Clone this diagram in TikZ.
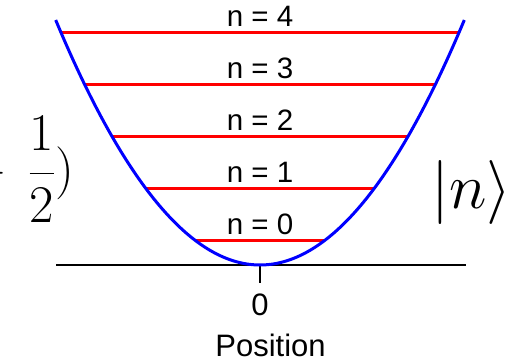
\RequirePackage{fix-cm}
\documentclass[tikz,border=0pt]{standalone}
\usepackage{fontspec}
\setsansfont{Liberation Sans}
\begin{document}
\begin{tikzpicture}[x=1pt,y=-1pt,
  curve/.style={draw=blue, line width=3pt},
  level/.style={draw=red, line width=3pt},
  axisline/.style={draw=black, line width=2.5pt},
  ticklen/.style={draw=black, line width=2pt},
  lab/.style={font=\sffamily\fontsize{29.5}{32}\selectfont, inner sep=0pt, anchor=base},
  biglab/.style={font=\sffamily\fontsize{31}{34}\selectfont, inner sep=0pt, anchor=base},
  mathbig/.style={font=\fontsize{53}{60}\selectfont, inner sep=0pt, anchor=base east},
  ]
\useasboundingbox (0,0) rectangle (512,361);
% axis
\coordinate (axL) at (56,265);
\coordinate (axR) at (466,265);
\coordinate (orig) at (260,265);
\coordinate (tickend) at (260,283);
\draw[axisline] (axL) -- (axR);
\draw[ticklen] (orig) -- (tickend);
% energy levels
\foreach \n/\yy in {0/240,1/188.25,2/136.5,3/84.75,4/33} {
  \pgfmathsetmacro\hw{sqrt(265-\yy)*13.052}
  \coordinate (L\n) at ({260-\hw},\yy);
  \coordinate (R\n) at ({260+\hw},\yy);
  \draw[level] (L\n) -- (R\n);
  \node[lab] (lab\n) at (260,{\yy-6}) {n = \n};
}
% potential
\draw[curve] plot[domain=-204.3:204.3, samples=101, smooth] ({260+\x},{265-(0.07662*(\x))^2});
% bottom labels
\node[biglab] (zero) at (260,315) {0};
\node[biglab] (pos) at (270.5,356.5) {Position};
% left formula (cut off at the page edge)
\node[mathbig] (half) at (74,186) {$\displaystyle{}+\hspace{11pt}\frac{1}{2})$};
% ket
\node[inner sep=0pt, anchor=base east, font=\fontsize{64}{70}\selectfont] (ket) at (511.5,208) {$|n\rangle$};
\end{tikzpicture}
\end{document}
